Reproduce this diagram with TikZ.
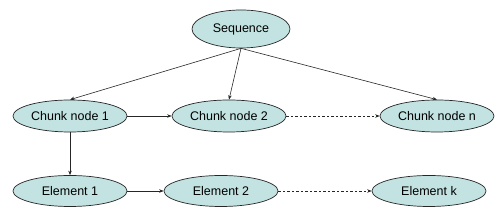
\documentclass[tikz,border=0pt]{standalone}
\usepackage{fontspec}
\setmainfont{Liberation Sans}
\usetikzlibrary{shapes.geometric,arrows.meta}
\definecolor{nodefill}{HTML}{C2E3E1}
\tikzset{
  oval/.style={ellipse, draw=black!85, line width=0.7pt, fill=nodefill, inner sep=0pt,
    minimum width=114pt, minimum height=32pt, font=\fontsize{12.5}{14}\selectfont},
  conn/.style={line width=0.6pt, draw=black!85, -{Stealth[length=4.5pt,width=3.5pt]}},
  dconn/.style={conn, dash pattern=on 2.5pt off 2pt}
}
\begin{document}
\begin{tikzpicture}[x=1pt,y=1pt]
\useasboundingbox (0,0) rectangle (500,221);
\node[oval, minimum width=98pt, minimum height=38pt] (seq) at (241,192) {Sequence};
\node[oval] (c1) at (70,105) {Chunk node 1};
\node[oval] (c2) at (229,105) {Chunk node 2};
\node[oval] (cn) at (437,105) {Chunk node n};
\node[oval, minimum height=31pt] (e1) at (70,30) {Element 1};
\node[oval, minimum height=31pt] (e2) at (221,30) {Element 2};
\node[oval, minimum height=31pt] (ek) at (429,30) {Element k};
\draw[conn] (seq.south) -- (c1.north);
\draw[conn] (seq.south) -- (c2.north);
\draw[conn] (seq.south) -- (cn.north);
\draw[conn] (c1) -- (c2);
\draw[dconn] (c2) -- (cn);
\draw[conn] (c1) -- (e1);
\draw[conn] (e1) -- (e2);
\draw[dconn] (e2) -- (ek);
\end{tikzpicture}
\end{document}
